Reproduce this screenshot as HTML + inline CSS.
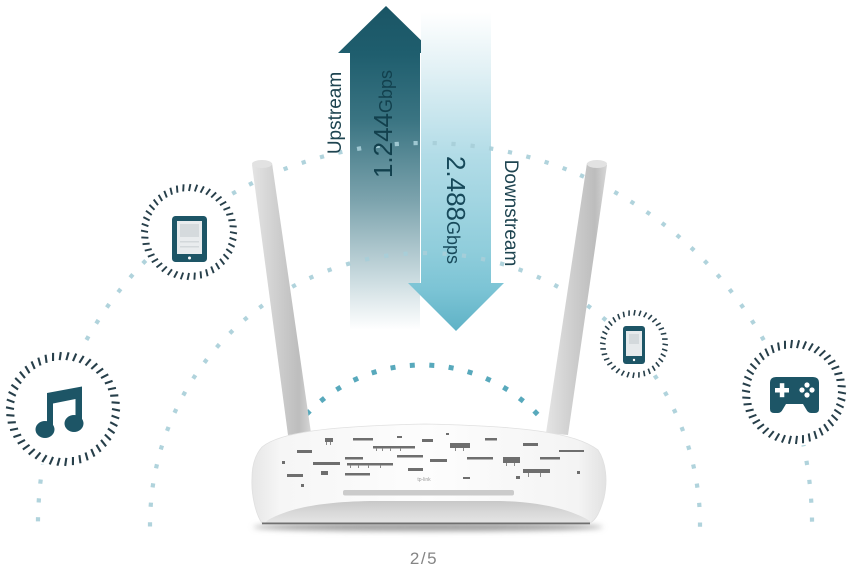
<!DOCTYPE html>
<html><head><meta charset="utf-8">
<style>
html,body{margin:0;padding:0;background:#fff;}
body{width:850px;height:569px;overflow:hidden;position:relative;}
svg{position:absolute;left:0;top:0;}
text{font-family:"Liberation Sans",sans-serif;}
</style></head>
<body>
<svg id="s" width="850" height="569" viewBox="0 0 850 569" xmlns="http://www.w3.org/2000/svg">
<defs>
  <linearGradient id="upg" x1="0" y1="6" x2="0" y2="330" gradientUnits="userSpaceOnUse">
    <stop offset="0" stop-color="#1a5565"/>
    <stop offset="0.15" stop-color="#1f5e6e"/>
    <stop offset="0.35" stop-color="#3a7482"/>
    <stop offset="0.6" stop-color="#7ca3ad"/>
    <stop offset="0.82" stop-color="#c3d6db"/>
    <stop offset="1" stop-color="#ffffff"/>
  </linearGradient>
  <linearGradient id="dng" x1="0" y1="12" x2="0" y2="331" gradientUnits="userSpaceOnUse">
    <stop offset="0" stop-color="#ffffff"/>
    <stop offset="0.18" stop-color="#e2f1f5"/>
    <stop offset="0.45" stop-color="#b2dce7"/>
    <stop offset="0.75" stop-color="#8fcddb"/>
    <stop offset="0.87" stop-color="#7cc4d5"/>
    <stop offset="1" stop-color="#5fb2c6"/>
  </linearGradient>
  <linearGradient id="ant" x1="0" y1="0" x2="1" y2="0">
    <stop offset="0" stop-color="#e4e4e4"/>
    <stop offset="0.35" stop-color="#d2d2d2"/>
    <stop offset="0.8" stop-color="#bdbdbd"/>
    <stop offset="1" stop-color="#d6d6d6"/>
  </linearGradient>
  <linearGradient id="body" x1="0" y1="0" x2="1" y2="0">
    <stop offset="0" stop-color="#e6e6e6"/>
    <stop offset="0.08" stop-color="#f6f6f6"/>
    <stop offset="0.5" stop-color="#fdfdfd"/>
    <stop offset="0.92" stop-color="#f4f4f4"/>
    <stop offset="1" stop-color="#e2e2e2"/>
  </linearGradient>
  <linearGradient id="bowl" x1="0" y1="500" x2="0" y2="524" gradientUnits="userSpaceOnUse">
    <stop offset="0" stop-color="#c6c6c6"/>
    <stop offset="0.5" stop-color="#d8d8d8"/>
    <stop offset="1" stop-color="#e6e6e6"/>
  </linearGradient>
  <filter id="blur" x="-20%" y="-200%" width="140%" height="500%"><feGaussianBlur stdDeviation="3"/></filter>
</defs>

<!-- arrows -->
<polygon points="386,6 434,53 420,53 420,330 350,330 350,53 338,53" fill="url(#upg)"/>
<polygon points="421,12 491,12 491,283 504,283 456,331 408,283 421,283" fill="url(#dng)"/>

<g id="dots"></g>

<!-- arrow texts -->
<text transform="translate(341,113) rotate(-90)" text-anchor="middle" font-size="19" fill="#1e4450">Upstream</text>
<text transform="translate(392,124) rotate(-90)" text-anchor="middle" fill="#12404d"><tspan font-size="26">1.244</tspan><tspan font-size="18">Gbps</tspan></text>
<text transform="translate(447,210) rotate(90)" text-anchor="middle" fill="#17495a"><tspan font-size="26">2.488</tspan><tspan font-size="18">Gbps</tspan></text>
<text transform="translate(505,213) rotate(90)" text-anchor="middle" font-size="19" fill="#1e4450">Downstream</text>

<!-- rings -->
<g id="rings"></g>

<!-- tablet -->
<rect x="172" y="216" width="35" height="46" rx="3.5" fill="#1d5566"/>
<rect x="177" y="221" width="25" height="33" fill="#e9ecee"/>
<rect x="180" y="224" width="19" height="13" fill="#d5dadd"/>
<rect x="180" y="241" width="19" height="1.5" fill="#d3d8db"/>
<rect x="180" y="246" width="19" height="1.5" fill="#d3d8db"/>
<circle cx="189.5" cy="258" r="1.5" fill="#fff"/>

<!-- music -->
<path d="M47,393 L82,386.5 L82,424 L75.5,424 L75.5,399 L53,403.5 L53,430 L47,430 Z" fill="#1d5566"/>
<ellipse cx="45" cy="429.5" rx="9.5" ry="8.5" fill="#1d5566"/>
<ellipse cx="74" cy="423.5" rx="9.5" ry="8.5" fill="#1d5566"/>

<!-- phone -->
<rect x="623" y="326" width="22" height="38" rx="3" fill="#1d5566"/>
<rect x="626" y="331" width="16" height="25" fill="#e6eaec"/>
<rect x="629" y="334" width="10" height="10" fill="#d3d9dc"/>
<circle cx="634" cy="360" r="1.2" fill="#fff"/>

<!-- gamepad -->
<path d="M776,377 H813 Q819,377 819,383 V409 Q819,413 815,413 H811 Q808,413 806,409 L803,404 H786 L783,409 Q781,413 778,413 H774 Q770,413 770,409 V383 Q770,377 776,377 Z" fill="#1d5566"/>
<rect x="775" y="388" width="14" height="4.5" fill="#fff"/>
<rect x="779.8" y="383.2" width="4.5" height="14" fill="#fff"/>
<circle cx="807" cy="385" r="2.6" fill="#fff"/>
<circle cx="807" cy="395" r="2.6" fill="#fff"/>
<circle cx="802" cy="390" r="2.6" fill="#fff"/>
<circle cx="812" cy="390" r="2.6" fill="#fff"/>

<!-- antennas -->
<polygon points="252,165 272,163 311,433 288,435" fill="url(#ant)"/>
<ellipse cx="262" cy="164" rx="10" ry="4" fill="#e2e2e2"/>
<polygon points="587,163 607,165 568,435 546,433" fill="url(#ant)"/>
<ellipse cx="597" cy="164" rx="10" ry="4" fill="#e2e2e2"/>

<!-- router -->
<ellipse cx="428" cy="527" rx="175" ry="4" fill="#9a9a9a" filter="url(#blur)"/>
<path d="M262,447 C280,432 330,426 425,424 C520,426 575,432 598,450 C606,462 608,480 604,498 C600,512 596,520 590,523 L262,523 C256,515 251,495 252,478 C252,465 255,455 262,447 Z" fill="url(#body)" stroke="#e0e0e0" stroke-width="0.8"/>
<path d="M268,520 C290,508 320,502 370,501 L500,501 C540,502 570,509 590,521 L590,524 L264,524 Z" fill="url(#bowl)"/>
<rect x="262" y="522.5" width="328" height="1.8" fill="#707070"/>
<rect x="343" y="490" width="171" height="5.5" rx="2" fill="#cbcbcb"/>
<g fill="#6e6e6e">
  <rect x="297" y="450" width="15" height="3"/>
  <rect x="325" y="438" width="8" height="4"/>
  <rect x="353" y="438" width="20" height="2.5"/>
  <rect x="373" y="446" width="42" height="2.5"/>
  <rect x="422" y="439" width="11" height="3"/>
  <rect x="450" y="443" width="20" height="5"/>
  <rect x="485" y="438" width="12" height="2.5"/>
  <rect x="523" y="443" width="15" height="3"/>
  <rect x="313" y="462" width="27" height="3"/>
  <rect x="345" y="457" width="18" height="2.5"/>
  <rect x="347" y="463" width="46" height="2.5"/>
  <rect x="397" y="455" width="26" height="2.5"/>
  <rect x="430" y="459" width="17" height="3"/>
  <rect x="467" y="457" width="26" height="2.5"/>
  <rect x="503" y="457" width="17" height="6"/>
  <rect x="540" y="457" width="20" height="2.5"/>
  <rect x="287" y="474" width="16" height="3"/>
  <rect x="321" y="471" width="7" height="4"/>
  <rect x="345" y="473" width="25" height="2.5"/>
  <rect x="408" y="468" width="15" height="3"/>
  <rect x="463" y="477" width="7" height="2"/>
  <rect x="516" y="476" width="4" height="3"/>
  <rect x="523" y="469" width="27" height="4"/>
  <rect x="301" y="484" width="3" height="3"/>
  <rect x="282" y="461" width="3" height="3"/>
  <rect x="577" y="471" width="3" height="3"/>
  <rect x="397" y="436" width="5" height="2"/>
  <rect x="446" y="433" width="3" height="2"/>
  <rect x="559" y="450" width="25" height="2"/>
</g>
<g fill="#8a8a8a">
  <rect x="376" y="448" width="1" height="3"/><rect x="382" y="448" width="1" height="3"/><rect x="390" y="448" width="1" height="3"/><rect x="400" y="448" width="1" height="3"/>
  <rect x="350" y="465" width="1" height="3"/><rect x="358" y="465" width="1" height="3"/><rect x="368" y="465" width="1" height="3"/><rect x="380" y="465" width="1" height="3"/>
  <rect x="455" y="448" width="1" height="3"/><rect x="463" y="448" width="1" height="3"/>
  <rect x="506" y="463" width="1" height="3"/><rect x="514" y="463" width="1" height="3"/>
  <rect x="528" y="473" width="1" height="4"/><rect x="540" y="473" width="1" height="4"/>
  <rect x="326" y="442" width="1" height="3"/><rect x="330" y="442" width="1" height="3"/>
</g>
<text x="424" y="481" text-anchor="middle" font-size="5" fill="#9a9a9a">tp-link</text>

<text x="424" y="564" text-anchor="middle" font-size="17" letter-spacing="1.5" fill="#858585">2/5</text>
</svg>
<script>
(function(){
var NS='http://www.w3.org/2000/svg';
var gd=document.getElementById('dots');
function arc(cx,cy,rx,ry,sp,col,sz,ymax,op){
  var pts=[],N=4000,i;
  for(i=0;i<=N;i++){var t=Math.PI-Math.PI*i/N;pts.push([cx+rx*Math.cos(t),cy-ry*Math.sin(t),t]);}
  var L=0,acc=[0];
  for(i=1;i<pts.length;i++){L+=Math.hypot(pts[i][0]-pts[i-1][0],pts[i][1]-pts[i-1][1]);acc.push(L);}
  var n=Math.floor(L/sp),off=(L-n*sp)/2,k=0;
  for(var j=0;j<=n;j++){
    var d=off+j*sp;
    while(k<acc.length-1&&acc[k]<d)k++;
    var p=pts[k];
    if(p[1]>ymax)continue;
    var ang=Math.atan2(ry*Math.cos(p[2]),rx*Math.sin(p[2]))*180/Math.PI;
    var r=document.createElementNS(NS,'rect');
    r.setAttribute('x',(p[0]-sz/2).toFixed(1));r.setAttribute('y',(p[1]-sz/2).toFixed(1));
    r.setAttribute('width',sz);r.setAttribute('height',sz);
    r.setAttribute('fill',col);r.setAttribute('opacity',op);
    r.setAttribute('transform','rotate('+ang.toFixed(1)+' '+p[0].toFixed(1)+' '+p[1].toFixed(1)+')');
    gd.appendChild(r);
  }
}
arc(425,525,387,382,19,'#a7ced8',4.2,527,0.9);
arc(425,525,275,272,19.5,'#a7ced8',4.2,527,0.9);
arc(422,525,160,160,19.5,'#58a9bc',5,415,1);

var gr=document.getElementById('rings');
function ring(cx,cy,ro,ri,n,w){
  var c=document.createElementNS(NS,'circle');
  c.setAttribute('cx',cx);c.setAttribute('cy',cy);c.setAttribute('r',ro+2);c.setAttribute('fill','#fff');
  gr.appendChild(c);
  for(var i=0;i<n;i++){
    var a=i*2*Math.PI/n;
    var a2=a+0.03;
    var l=document.createElementNS(NS,'line');
    l.setAttribute('x1',(cx+ri*Math.cos(a)).toFixed(2));l.setAttribute('y1',(cy+ri*Math.sin(a)).toFixed(2));
    l.setAttribute('x2',(cx+ro*Math.cos(a2)).toFixed(2));l.setAttribute('y2',(cy+ro*Math.sin(a2)).toFixed(2));
    l.setAttribute('stroke','#273f4a');l.setAttribute('stroke-width',w);
    gr.appendChild(l);
  }
}
ring(189,232,48,41,44,1.9);
ring(63,409,57,49,46,2.1);
ring(634,344,34,28.5,36,1.6);
ring(794,392,52,44,46,2);
})();
</script>
</body></html>
